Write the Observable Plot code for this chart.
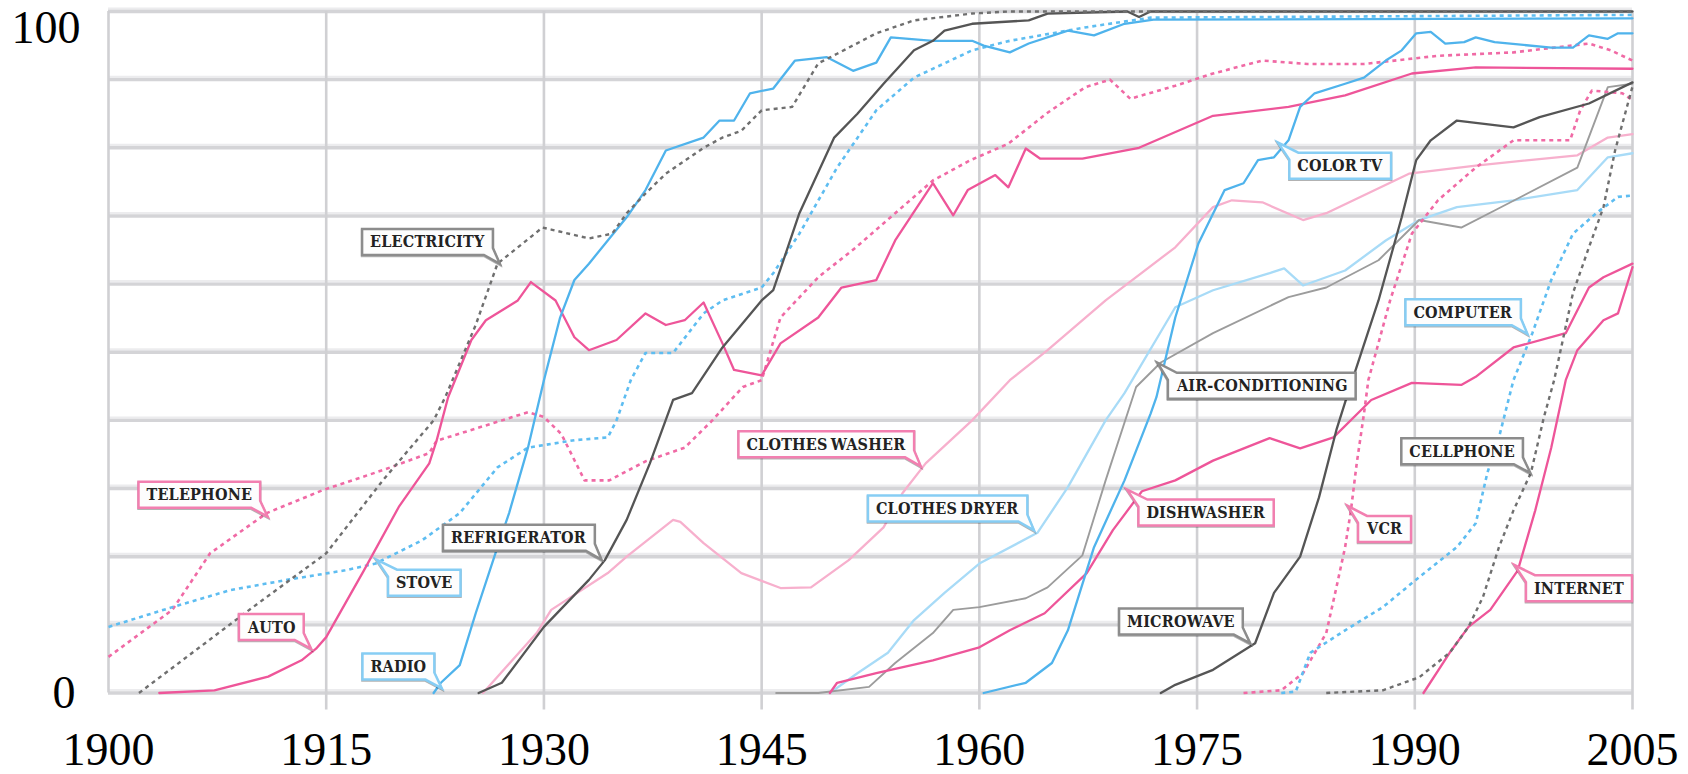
<!DOCTYPE html>
<html><head><meta charset="utf-8">
<script src="https://cdn.jsdelivr.net/npm/d3@7"></script>
<script src="https://cdn.jsdelivr.net/npm/@observablehq/plot@0.6"></script>
<style>
html,body{margin:0;padding:0;background:#fff;overflow:hidden}
#chart svg{display:block}
.callout text{letter-spacing:0.2px;word-spacing:-2px}
</style></head><body><div id="chart"></div><script>
// ---- tick labels ----
const xTicks = [1900, 1915, 1930, 1945, 1960, 1975, 1990, 2005];
const yGrid = [0, 10, 20, 30, 40, 50, 60, 70, 80, 90, 100];
const yTickLow = [0];
const yTickHigh = [100];

// ---- series values: [year, percent of households] ----
const electricity = [[1902.1,0],[1909.7,12.2],[1915,20.5],[1918.9,31.2],[1922.4,40],[1923.2,43.4],[1925.3,54],[1926.8,63],[1929.9,68.3],[1930.5,68],[1933.1,66.7],[1934.7,67.4],[1935.7,70.4],[1937,73.3],[1938.4,76.2],[1941,80],[1942.3,81.5],[1943.6,82.5],[1945,85.5],[1947.1,86],[1948.9,92.4],[1950.2,93.8],[1952.9,96.8],[1955.5,98.7],[1959.5,99.7],[1962,100],[2005,100]];
const telephone = [[1900,5.3],[1904.4,12.2],[1907,20.5],[1910.9,26.4],[1914.8,29.8],[1918.9,32.7],[1922.1,35.2],[1922.6,37],[1928.9,41.2],[1930,40.5],[1931.2,38],[1932.8,31.2],[1934.5,31.2],[1937,34],[1939.7,36],[1941.6,40],[1943.7,44.9],[1945,45.9],[1946.3,55.1],[1948.9,61],[1951.5,65.4],[1954.2,70.4],[1956.8,75.2],[1959.4,78.2],[1962,80.6],[1964.6,85],[1967.3,88.9],[1969,90],[1970.4,87.2],[1973.5,89.1],[1976.1,90.9],[1979.5,92.8],[1982.6,92.3],[1986.5,92.3],[1991.6,93.5],[1996.8,94],[2002,95.3],[2003.5,94.3],[2005,92.8]];
const auto = [[1903.5,0],[1907.3,0.4],[1911,2.4],[1913.3,4.8],[1914.3,6.5],[1915,8.2],[1917.6,18],[1920,27.3],[1922.1,33.7],[1922.6,37],[1923.4,43.4],[1925,51.8],[1926,54.7],[1928.2,57.6],[1929.1,60.3],[1930.8,57.6],[1932.1,52.2],[1933.1,50.3],[1935,51.8],[1937,55.7],[1938.4,54],[1939.7,54.7],[1941,57.3],[1942.3,51.3],[1943.1,47.4],[1945,46.6],[1946.3,51.3],[1948.9,55.1],[1950.5,59.5],[1952.9,60.6],[1954.2,66.4],[1956.8,74.8],[1958.2,70.1],[1959.2,73.8],[1961.1,76],[1962,74.2],[1963.2,79.9],[1964.2,78.4],[1967.1,78.4],[1971,80],[1976.1,84.7],[1981.3,86],[1985.2,87.7],[1989.8,90.9],[1994.2,91.8],[2005,91.6]];
const radio = [[1922.4,0],[1922.9,1.5],[1924.2,4.1],[1925.3,11.7],[1926.8,21.4],[1927.6,26.4],[1928.9,36],[1930,45.9],[1931.1,55],[1932.1,60.6],[1933.1,63],[1935.7,69.8],[1937,73.8],[1938.4,79.6],[1941,81.5],[1942.1,84],[1943.1,84],[1944.2,88],[1945.8,88.7],[1947.3,92.8],[1949.5,93.3],[1951.3,91.3],[1952.9,92.5],[1953.9,96.2],[1956.8,95.7],[1959.5,95.7],[1960.3,95],[1962.1,94],[1963.4,95.3],[1966.1,97.2],[1967.9,96.5],[1970,98.2],[1972,98.8],[2005,99]];
const stove = [[1900,9.7],[1904.4,12.6],[1908.4,15.1],[1912.3,16.6],[1916.3,18],[1918.4,19],[1921.6,22.4],[1924.2,26.4],[1926.8,33.1],[1928.9,36],[1932.1,37.1],[1934.4,37.5],[1935,40],[1936,46],[1937,49.9],[1938.9,49.9],[1941,55.7],[1942.3,57.6],[1945,59.5],[1945.8,61.6],[1947.6,67.4],[1950.2,77.1],[1952.9,85.5],[1955.5,90.3],[1959.5,94.3],[1962.1,95.7],[1967.4,97.7],[1971.8,99.1],[2005,99.5]];
const refrigerator = [[1925.5,0],[1927.1,1.5],[1930,9.7],[1933.1,16.6],[1934.2,19.5],[1935.7,25.4],[1937.3,33.7],[1938.9,43],[1940.2,44],[1942.3,50.7],[1945,57.6],[1945.8,59.1],[1947.6,70.4],[1950,81.5],[1951.6,85],[1953.4,89.4],[1955.5,94.3],[1956.8,95.7],[1957.6,97.2],[1959.5,98.2],[1963.4,98.7],[1964.7,99.7],[1970.2,100],[1971,99.2],[1971.8,100],[2005,100]];
const clothesWasher = [[1925.8,0],[1929.5,8.8],[1930.5,12.2],[1934.4,17.6],[1935.7,20],[1938.9,25.4],[1939.4,25.1],[1941,22],[1943.6,17.6],[1946.3,15.4],[1948.4,15.5],[1951,19.5],[1953.4,24.3],[1954.7,29.3],[1956.3,33.7],[1959.5,40],[1962.1,45.9],[1964.7,50.3],[1968.7,57.6],[1973.5,65.4],[1976.1,71.3],[1977.4,72.3],[1979.5,72],[1982.3,69.4],[1983.9,70.4],[1989.6,76.2],[1994.2,77.4],[2001.2,78.9],[2003.3,81.5],[2005,82]];
const clothesDryer = [[1949.7,0],[1951.6,2.9],[1953.7,5.9],[1955.5,10.7],[1957.6,14.7],[1960,19],[1964,23.5],[1966.1,30.2],[1968.7,40],[1970,44],[1973.5,56.6],[1976.1,59.1],[1980,61.6],[1981,62.3],[1982.3,59.8],[1985.2,62],[1988,66.4],[1990.3,69.4],[1992.9,71.3],[1996.8,72.3],[2001.2,73.8],[2003.3,78.6],[2005,79.2]];
const airConditioning = [[1946,0],[1948.9,0],[1952.4,0.9],[1954.2,4.4],[1956.8,8.8],[1958.2,12.2],[1960,12.6],[1963.2,13.9],[1964.7,15.5],[1967.1,20.2],[1968.7,31.2],[1970.8,44.9],[1972.5,48.5],[1976.1,52.8],[1981.3,58.1],[1983.9,59.5],[1987.5,63.5],[1990.3,69.4],[1993.2,68.3],[1995.5,70.8],[2001.2,77.1],[2003.3,88.9],[2005,89.4]];
const colorTV = [[1960.3,0],[1963.2,1.5],[1965,4.4],[1966.1,9.2],[1967.9,21.4],[1970,31.2],[1971.8,41],[1972.2,43.4],[1973.5,55.1],[1975.1,66],[1976.9,73.8],[1978.2,74.8],[1979.2,78.2],[1980.3,78.6],[1981.3,81.1],[1982.1,86],[1983.1,88],[1985.2,89.4],[1986.5,90.3],[1988,92.8],[1989.1,94.3],[1990.1,96.8],[1991.1,97],[1992.1,95.3],[1993.4,95.5],[1994.2,96.2],[1995.5,95.5],[1999.4,94.7],[2000.9,94.7],[2002,96.5],[2003.3,96],[2004,96.8],[2005,96.8]];
const dishwasher = [[1949.7,0],[1950.2,1.5],[1952.9,2.9],[1956.8,4.8],[1960,6.7],[1962.1,9.2],[1964.5,11.7],[1967.4,17.6],[1969.2,23.9],[1971.2,29.6],[1973.5,31.2],[1976.1,34.1],[1980,37.4],[1982.1,35.9],[1984.4,37.5],[1987,43],[1989.8,45.5],[1993.2,45.2],[1994.2,46.4],[1996.8,50.7],[2000.4,52.8],[2002,59.5],[2003,61],[2005,63]];
const microwave = [[1972.5,0],[1973.5,1.2],[1976.1,3.4],[1979,7.3],[1980.3,14.7],[1982.1,20],[1983.4,28.7],[1984.6,38.6],[1985.4,44],[1987.5,57.6],[1989.1,69.8],[1990.1,78.2],[1991.1,81.1],[1992.9,84],[1996.8,83],[1998.6,84.5],[2002,86.5],[2005,89.6]];
const vcr = [[1978.2,0],[1980.8,0.4],[1982.3,2.9],[1983.9,8.8],[1984.6,15.5],[1985.2,21.4],[1985.6,26.8],[1986,33.7],[1986.5,41],[1986.8,45.9],[1988.3,57.6],[1989.8,67.4],[1991.6,72.3],[1994.2,77.1],[1996.8,81.1],[2000.7,81.1],[2001.4,85.5],[2002.2,88.4],[2004.3,88],[2005,87]];
const computer = [[1980.8,0],[1981.8,0.2],[1982.8,5.9],[1985.2,9.2],[1987.8,12.6],[1990.3,17],[1992.9,21.4],[1994.2,24.9],[1995,32.3],[1995.8,37.5],[1996.8,45.9],[1998.1,52.8],[1999.4,60.6],[2000.9,67.4],[2002.5,70.4],[2004,72.8],[2005,73]];
const cellphone = [[1983.9,0],[1987.8,0.4],[1990.3,2.3],[1992.4,5.9],[1993.7,9.7],[1994.7,14.1],[1995.8,21.4],[1996.8,26.8],[1998,32.3],[1998.9,40.5],[1999.6,45.9],[2000.9,58.7],[2002,65.4],[2003,71.3],[2003.8,79.6],[2005,89]];
const internet = [[1990.6,0],[1992.4,5.9],[1993.7,9.7],[1995.2,12.2],[1997.1,18],[1998.3,26.8],[1999.4,36],[2000.4,45.9],[2001.2,50.3],[2003,54.7],[2004,55.7],[2005,62.5]];

// ---- callout labels: text and the point on its line (year, value) ----
const labelText = ["ELECTRICITY","TELEPHONE","AUTO","STOVE","RADIO","REFRIGERATOR","CLOTHES WASHER","CLOTHES DRYER","COLOR TV","AIR-CONDITIONING","DISHWASHER","MICROWAVE","VCR","COMPUTER","CELLPHONE","INTERNET"];
const labelYear = [1927, 1911, 1914, 1918.5, 1923, 1934, 1956, 1963.8, 1980.6, 1972.3, 1970.2, 1978.7, 1985.4, 1997.8, 1998, 1996.9];
const labelValue = [62.9, 25.8, 6.4, 19.5, 0.6, 19.5, 33.2, 23.8, 80.7, 48.4, 29.8, 7.2, 27.4, 52.6, 32.2, 18.7];

// ---- styles (kept apart from data) ----
const PINK = "#ee5599", PINK_DOT = "#f06aa5", PINK_LIGHT = "#f7b0cd";
const BLUE = "#4fb3ec", BLUE_DOT = "#5ebdf1", BLUE_LIGHT = "#a8dbf7";
const GREY_DARK = "#555555", GREY_DOT = "#6f6f6f", GREY_MID = "#9c9c9c";
const DOTS = "4,4";
const seriesStyle = [
  {data: clothesWasher, stroke: PINK_LIGHT, width: 2.3},
  {data: clothesDryer, stroke: BLUE_LIGHT, width: 2.3},
  {data: airConditioning, stroke: GREY_MID, width: 1.9},
  {data: telephone, stroke: PINK_DOT, width: 2.6, dash: DOTS},
  {data: stove, stroke: BLUE_DOT, width: 2.6, dash: DOTS},
  {data: vcr, stroke: PINK_DOT, width: 2.6, dash: DOTS},
  {data: computer, stroke: BLUE_DOT, width: 2.6, dash: DOTS},
  {data: auto, stroke: PINK, width: 2.3},
  {data: dishwasher, stroke: PINK, width: 2.3},
  {data: internet, stroke: PINK, width: 2.3},
  {data: radio, stroke: BLUE, width: 2.3},
  {data: colorTV, stroke: BLUE, width: 2.3},
  {data: refrigerator, stroke: GREY_DARK, width: 2.3},
  {data: microwave, stroke: GREY_DARK, width: 2.3},
  {data: electricity, stroke: GREY_DOT, width: 2.4, dash: DOTS},
  {data: cellphone, stroke: GREY_DOT, width: 2.4, dash: DOTS}
];
const TONE_PINK = "#f27fb0", TONE_BLUE = "#86cdf4", TONE_GREY = "#8c8c8c";
const labelTone = {ELECTRICITY:TONE_GREY,TELEPHONE:TONE_PINK,AUTO:TONE_PINK,STOVE:TONE_BLUE,RADIO:TONE_BLUE,REFRIGERATOR:TONE_GREY,"CLOTHES WASHER":TONE_PINK,"CLOTHES DRYER":TONE_BLUE,"COLOR TV":TONE_BLUE,"AIR-CONDITIONING":TONE_GREY,DISHWASHER:TONE_PINK,MICROWAVE:TONE_GREY,VCR:TONE_PINK,COMPUTER:TONE_BLUE,CELLPHONE:TONE_GREY,INTERNET:TONE_PINK};
const tailTopLeft = new Set(["STOVE","COLOR TV","AIR-CONDITIONING","DISHWASHER","VCR","INTERNET"]);

const labels = labelText.map((t, i) => ({text: t, year: labelYear[i], value: labelValue[i]}));
const labelsBR = labels.filter(l => !tailTopLeft.has(l.text));
const labelsTL = labels.filter(l => tailTopLeft.has(l.text));

// callout: text mark whose render adds a speech-bubble box behind each text
function callout(data, topLeft) {
  return Plot.text(data, {
    x: "year", y: "value", text: "text",
    textAnchor: topLeft ? "start" : "end",
    lineAnchor: "middle",
    dx: topLeft ? 19 : -16, dy: topLeft ? 23 : -22,
    fontFamily: "DejaVu Serif Condensed, DejaVu Serif, serif",
    fontWeight: "bold", fontSize: 16, fill: "#222",
    render(index, scales, values, dimensions, context, next) {
      const textG = next(index, scales, values, dimensions, context);
      const wrap = d3.create("svg:g").attr("class", "callout");
      const boxG = wrap.append("g");
      wrap.node().appendChild(textG);
      Promise.resolve().then(() => {
        const svg = wrap.node().ownerSVGElement;
        if (!svg) return;
        const sr = svg.getBoundingClientRect();
        d3.select(textG).selectAll("text").each(function () {
          const i = d3.select(this).datum();
          const r = this.getBoundingClientRect();
          const padX = 8, padY = 3.5;
          const L = r.left - sr.left - padX, R = r.right - sr.left + padX;
          const T = r.top - sr.top - padY, B = r.bottom - sr.top + padY;
          const px = values.x[i], py = values.y[i];
          const d = topLeft
            ? `M${L + 9},${T}H${R}V${B}H${L}V${T + 7}L${px},${py}Z`
            : `M${L},${T}H${R}V${B - 7}L${px},${py}L${R - 9},${B}H${L}Z`;
          boxG.append("path")
            .attr("d", d)
            .attr("fill", "#fdfdfd")
            .attr("stroke", labelTone[data[i].text])
            .attr("stroke-width", 2.5)
            .attr("stroke-linejoin", "miter")
            .style("filter", "drop-shadow(0 1.5px 0.6px rgba(0,0,0,0.3))");
        });
      });
      return wrap.node();
    }
  });
}

const axisFont = {fontFamily: "Liberation Serif, Times New Roman, serif", fontSize: 46, tickSize: 0, color: "black", label: null};

const marks = [
  // grid
  Plot.ruleY(yGrid, {y: d => d, x1: 1900, x2: 2005, stroke: "#ececee", strokeWidth: 2.4, dy: -2.8}),
  Plot.ruleY(yGrid, {y: d => d, x1: 1900, x2: 2005, stroke: "#d4d4d7", strokeWidth: 3.4}),
  Plot.ruleX(xTicks, {x: d => d, y1: d => d === 1900 ? 0 : -2.5, y2: 100, stroke: "#d0d0d3", strokeWidth: 2.6}),
  // lines
  ...seriesStyle.map(s => Plot.line(s.data, {x: d => d[0], y: d => d[1], stroke: s.stroke, strokeWidth: s.width, strokeDasharray: s.dash, strokeLinejoin: "round", strokeLinecap: s.dash ? "butt" : "round"})),
  // axes
  Plot.axisX({...axisFont, ticks: xTicks, tickFormat: d => String(d), tickPadding: 39}),
  Plot.axisY({...axisFont, ticks: yTickLow, tickFormat: d => String(d), tickPadding: 33}),
  Plot.axisY({...axisFont, ticks: yTickHigh, tickFormat: d => String(d), tickPadding: 28, dy: 16.5}),
  // callouts
  callout(labelsBR, false),
  callout(labelsTL, true)
];

const chart = Plot.plot({
  width: 1688, height: 774,
  marginLeft: 108, marginRight: 56, marginTop: 11, marginBottom: 81.5,
  x: {domain: [1900, 2005]},
  y: {domain: [0, 100]},
  style: {background: "white", color: "#222", overflow: "visible"},
  marks
});
document.getElementById("chart").appendChild(chart);
</script></body></html>
